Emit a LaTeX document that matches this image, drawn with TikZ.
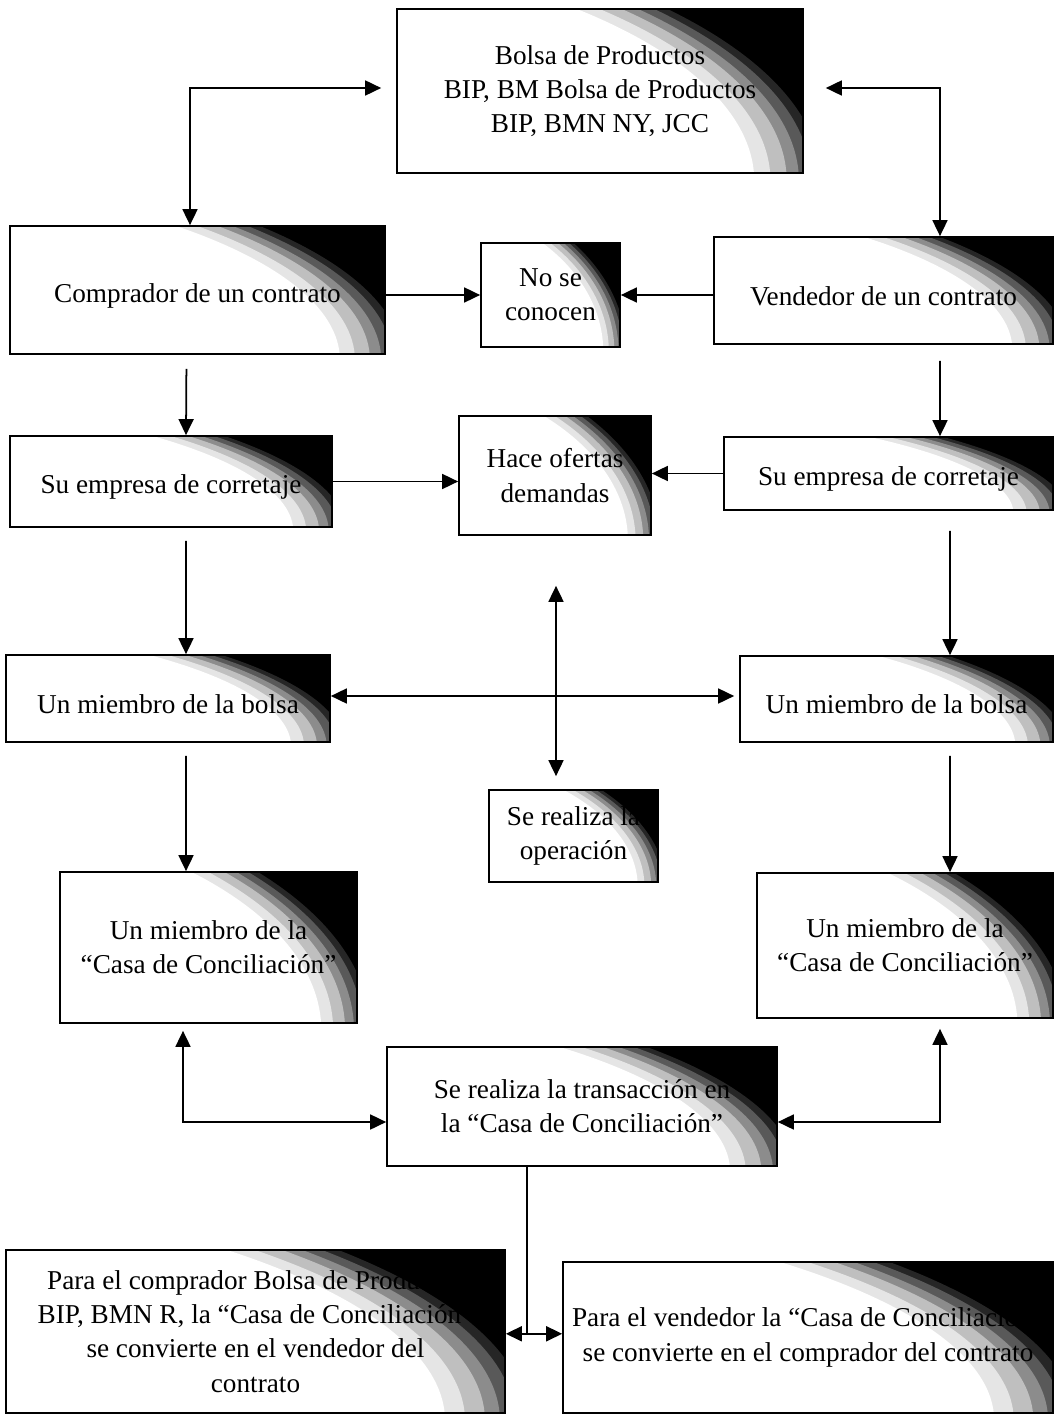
\documentclass[tikz,border=0pt]{standalone}
\usepackage{fontspec}
\setmainfont{Liberation Serif}
\usetikzlibrary{arrows.meta,calc}

% one ring of the dark corner, #1 colour, #2 radius as a share of the box
\newcommand{\anillo}[2]{\fill[#1] let \p1=(path picture bounding box.south west), \p2=(path picture bounding box.north east) in ({\x1-0.6*(\x2-\x1)},{\y1-0.05*(\y2-\y1)}) ellipse [x radius={#2*(\x2-\x1)}, y radius={#2*(\y2-\y1)}];}

\tikzset{
  caja/.style={draw, line width=1pt, align=center, inner sep=2pt,
    font=\fontsize{15.5}{19.5}\selectfont,
    execute at begin node={\rule{0pt}{17pt}},
    path picture={
      \fill[black] (path picture bounding box.south west) rectangle (path picture bounding box.north east);
      \anillo{black!85}{1.645}
      \anillo{black!65}{1.62}
      \anillo{black!45}{1.59}
      \anillo{black!25}{1.56}
      \anillo{black!10}{1.52}
      \anillo{white}{1.48}}},
  flecha/.style={line width=1pt, -{Triangle[length=0.32cm,width=0.3cm]}},
  doble/.style={line width=1pt, {Triangle[length=0.32cm,width=0.3cm]}-{Triangle[length=0.32cm,width=0.3cm]}},
  linea/.style={line width=1pt}
}

\begin{document}
\begin{tikzpicture}[x=0.02cm,y=-0.02cm]
  \useasboundingbox (0,0) rectangle (1055,1415);

  \node[caja, minimum width=8.12cm, minimum height=3.28cm] (bolsa) at (600,91) {Bolsa de Productos\\BIP, BM Bolsa de Productos\\BIP, BMN NY, JCC};
  \node[caja, minimum width=7.5cm, minimum height=2.56cm] (comprador) at (197.5,290) {Comprador de un contrato};
  \node[caja, minimum width=2.78cm, minimum height=2.08cm] (noseconocen) at (550.5,295) {No se\\conocen};
  \node[caja, minimum width=6.78cm, minimum height=2.14cm] (vendedor) at (883.5,290.5) {Vendedor de un contrato};
  \node[caja, minimum width=6.44cm, minimum height=1.82cm] (empresaL) at (171,481.5) {Su empresa de corretaje};
  \node[caja, minimum width=3.84cm, minimum height=2.38cm] (ofertas) at (555,475.5) {Hace ofertas\\demandas};
  \node[caja, minimum width=6.58cm, minimum height=1.46cm] (empresaR) at (888.5,473.5) {Su empresa de corretaje};
  \node[caja, minimum width=6.48cm, minimum height=1.74cm] (miembroL) at (168,698.5) {Un miembro de la bolsa};
  \node[caja, minimum width=6.26cm, minimum height=1.72cm] (miembroR) at (896.5,699) {Un miembro de la bolsa};
  \node[caja, minimum width=3.38cm, minimum height=1.84cm] (operacion) at (573.5,836) {Se realiza la\\operación};
  \node[caja, minimum width=5.94cm, minimum height=3.02cm] (casaL) at (208.5,947.5) {Un miembro de la\\“Casa de Conciliación”};
  \node[caja, minimum width=5.92cm, minimum height=2.9cm] (casaR) at (905,945.5) {Un miembro de la\\“Casa de Conciliación”};
  \node[caja, minimum width=7.8cm, minimum height=2.38cm] (transaccion) at (582,1106.5) {Se realiza la transacción en\\la “Casa de Conciliación”};
  \node[caja, minimum width=9.98cm, minimum height=3.26cm] (paraL) at (255.5,1331.5) {Para el comprador Bolsa de Productos\\BIP, BMN R, la “Casa de Conciliación”\\se convierte en el vendedor del\\contrato};
  \node[caja, minimum width=9.8cm, minimum height=3.02cm] (paraR) at (808,1337.5) {Para el vendedor la “Casa de Conciliación”\\se convierte en el comprador del contrato};

  \draw[doble, shorten >=0.3cm] ([xshift=-0.15cm]comprador.north) |- ([yshift=0.06cm]bolsa.west);
  \draw[doble, shorten >=0.44cm] ([xshift=1.13cm]vendedor.north) |- ([yshift=0.06cm]bolsa.east);
  \draw[flecha] (comprador.east |- noseconocen.west) -- (noseconocen.west);
  \draw[flecha] (vendedor.west |- noseconocen.east) -- (noseconocen.east);
  \draw[flecha, shorten <=0.28cm] ([xshift=-0.22cm]comprador.south) -- ([xshift=0.3cm]empresaL.north);
  \draw[flecha, shorten <=0.32cm] ([xshift=1.13cm]vendedor.south) -- ([xshift=1.03cm]empresaR.north);
  \draw[flecha] (empresaL.east) -- (empresaL.east -| ofertas.west);
  \draw[flecha] (empresaR.west) -- (empresaR.west -| ofertas.east);
  \draw[flecha, shorten <=0.26cm] ([xshift=0.3cm]empresaL.south) -- ([xshift=0.36cm]miembroL.north);
  \draw[flecha, shorten <=0.4cm] ([xshift=1.23cm]empresaR.south) -- ([xshift=1.07cm]miembroR.north);
  \draw[doble, shorten >=0.1cm] ([yshift=0.05cm]miembroL.east) -- ([yshift=0.06cm]miembroR.west);
  \draw[doble, shorten <=1cm, shorten >=0.26cm] ([xshift=0.02cm]ofertas.south) -- ([xshift=-0.35cm]operacion.north);
  \draw[flecha, shorten <=0.26cm] ([xshift=0.36cm]miembroL.south) -- ([xshift=-0.45cm]casaL.north);
  \draw[flecha, shorten <=0.26cm] ([xshift=1.07cm]miembroR.south) -- ([xshift=0.9cm]casaR.north);
  \draw[doble, shorten <=0.14cm] ([xshift=-0.51cm]casaL.south) |- ([yshift=-0.31cm]transaccion.west);
  \draw[doble, shorten <=0.2cm] ([xshift=0.7cm]casaR.south) |- ([yshift=-0.31cm]transaccion.east);

  \coordinate (union) at ($(paraL.east)!0.38!(paraR.west)$);
  \draw[linea] (transaccion.south -| union) -- (union);
  \draw[doble] (paraL.east |- union) -- (paraR.west |- union);
\end{tikzpicture}
\end{document}
